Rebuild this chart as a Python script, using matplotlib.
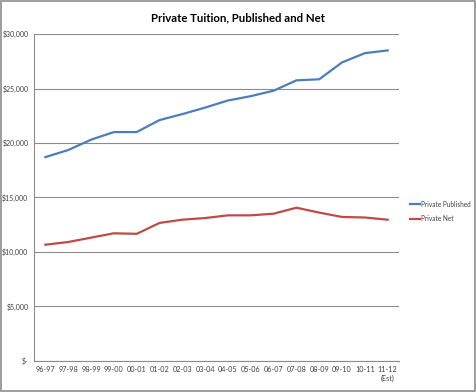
import matplotlib
matplotlib.use("Agg")
import matplotlib.pyplot as plt
from matplotlib.patches import Rectangle

categories = ["96-97", "97-98", "98-99", "99-00", "00-01", "01-02", "02-03", "03-04",
              "04-05", "05-06", "06-07", "07-08", "08-09", "09-10", "10-11", "11-12\n(Est)"]
private_published = [18700, 19350, 20300, 21000, 21000, 22100, 22650, 23250,
                     23900, 24300, 24800, 25750, 25850, 27400, 28250, 28500]
private_net = [10650, 10900, 11300, 11700, 11650, 12650, 12950, 13100,
               13350, 13350, 13500, 14050, 13600, 13200, 13150, 12950]
yticks = [0, 5000, 10000, 15000, 20000, 25000, 30000]
ytick_labels = ["$-", "$5,000", "$10,000", "$15,000", "$20,000", "$25,000", "$30,000"]

plt.rcParams['font.family'] = ['Lato', 'DejaVu Sans']

fig = plt.figure(figsize=(4.76, 3.92), dpi=100)
fig.patch.set_facecolor("white")
fig.patches.append(Rectangle((0.002, 0.003), 0.995, 0.994, transform=fig.transFigure,
                             fill=False, edgecolor="#8c8c8c", linewidth=1.2))

ax = fig.add_axes([0.0714, 0.080, 0.767, 0.833])
x = list(range(len(categories)))
ax.plot(x, private_published, color="#4A7EBB", linewidth=1.6, label="Private Published")
ax.plot(x, private_net, color="#BE4B48", linewidth=1.6, label="Private Net")

ax.set_xlim(-0.5, len(categories) - 0.5)
ax.set_ylim(0, 30000)
ax.set_yticks(yticks)
ax.set_yticklabels(ytick_labels, fontsize=5.0, color="#404040")
ax.set_xticks(x)
ax.set_xticklabels(categories, fontsize=5.2, color="#404040")
ax.tick_params(axis="both", length=0, pad=4)
ax.yaxis.grid(True, color="#8c8c8c", linewidth=0.8)
ax.set_axisbelow(True)
for s in ["top", "right"]:
    ax.spines[s].set_visible(False)
for s in ["left", "bottom"]:
    ax.spines[s].set_color("#8c8c8c")
    ax.spines[s].set_linewidth(0.8)

fig.text(0.5, 0.955, "Private Tuition, Published and Net", ha="center", va="center",
         fontsize=8.2, fontweight="bold", color="#000000")

fig.legend(loc="upper left", bbox_to_anchor=(0.848, 0.503), frameon=False,
           fontsize=4.7, handlelength=1.6, handletextpad=0.2, labelspacing=1.1,
           labelcolor="#404040")

fig.savefig("out.png", dpi=100)
